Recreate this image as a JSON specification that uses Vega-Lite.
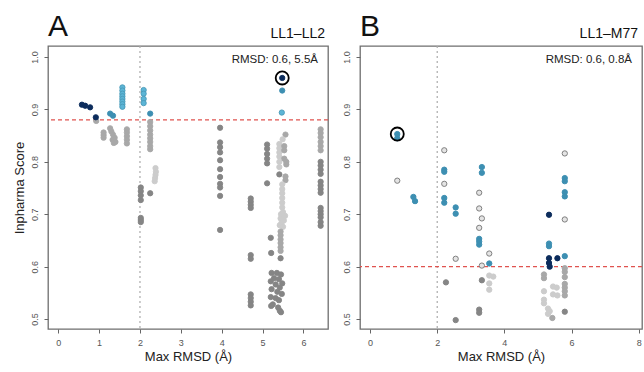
{
  "$schema": "https://vega.github.io/schema/vega-lite/v6.json",
  "padding": {"left": 12, "top": 11, "right": 0, "bottom": 0},
  "spacing": 11,
  "config": {
    "font": "Liberation Sans",
    "view": {"stroke": "#6e6e6e", "strokeWidth": 1.3},
    "axis": {"grid": false, "domain": false, "tickColor": "#666666", "tickSize": 4, "labelColor": "#555555", "labelFontSize": 9, "labelPadding": 5, "titleFontSize": 13, "titleFontWeight": "normal", "titleColor": "#222222", "titlePadding": 3}
  },
  "datasets": {
    "a": [
      {"x": 0.58, "y": 0.909, "c": "N"}, {"x": 0.66, "y": 0.907, "c": "N"}, {"x": 0.78, "y": 0.904, "c": "N"},
      {"x": 0.93, "y": 0.878, "c": "M"}, {"x": 0.92, "y": 0.885, "c": "N"},
      {"x": 1.27, "y": 0.892, "c": "T"}, {"x": 1.34, "y": 0.888, "c": "T"},
      {"x": 1.57, "y": 0.942, "c": "C"}, {"x": 1.57, "y": 0.936, "c": "C"}, {"x": 1.57, "y": 0.93, "c": "C"}, {"x": 1.57, "y": 0.925, "c": "C"},
      {"x": 1.57, "y": 0.92, "c": "C"}, {"x": 1.57, "y": 0.915, "c": "C"}, {"x": 1.57, "y": 0.91, "c": "C"}, {"x": 1.57, "y": 0.905, "c": "C"},
      {"x": 2.09, "y": 0.937, "c": "C"}, {"x": 2.09, "y": 0.93, "c": "C"}, {"x": 2.09, "y": 0.92, "c": "C"}, {"x": 2.09, "y": 0.912, "c": "C"},
      {"x": 2.25, "y": 0.892, "c": "T"},
      {"x": 2.25, "y": 0.876, "c": "M"}, {"x": 2.25, "y": 0.868, "c": "M"}, {"x": 2.25, "y": 0.86, "c": "M"}, {"x": 2.25, "y": 0.852, "c": "M"},
      {"x": 2.25, "y": 0.845, "c": "M"}, {"x": 2.25, "y": 0.838, "c": "M"}, {"x": 2.25, "y": 0.83, "c": "M"}, {"x": 2.25, "y": 0.824, "c": "M"},
      {"x": 1.11, "y": 0.856, "c": "M"}, {"x": 1.11, "y": 0.851, "c": "M"}, {"x": 1.11, "y": 0.846, "c": "M"},
      {"x": 1.27, "y": 0.864, "c": "M"}, {"x": 1.3, "y": 0.858, "c": "M"}, {"x": 1.34, "y": 0.852, "c": "M"}, {"x": 1.38, "y": 0.846, "c": "M"},
      {"x": 1.33, "y": 0.842, "c": "M"}, {"x": 1.4, "y": 0.838, "c": "M"}, {"x": 1.36, "y": 0.836, "c": "M"},
      {"x": 1.68, "y": 0.862, "c": "M"}, {"x": 1.68, "y": 0.856, "c": "M"}, {"x": 1.68, "y": 0.849, "c": "M"}, {"x": 1.68, "y": 0.842, "c": "M"}, {"x": 1.68, "y": 0.835, "c": "M"},
      {"x": 2.38, "y": 0.788, "c": "L"}, {"x": 2.39, "y": 0.781, "c": "L"}, {"x": 2.38, "y": 0.775, "c": "L"}, {"x": 2.37, "y": 0.769, "c": "L"}, {"x": 2.36, "y": 0.763, "c": "L"},
      {"x": 2.02, "y": 0.751, "c": "G"}, {"x": 2.02, "y": 0.744, "c": "G"}, {"x": 2.02, "y": 0.736, "c": "G"}, {"x": 2.02, "y": 0.727, "c": "G"},
      {"x": 2.02, "y": 0.693, "c": "G"}, {"x": 2.02, "y": 0.689, "c": "G"}, {"x": 2.02, "y": 0.685, "c": "G"},
      {"x": 2.25, "y": 0.74, "c": "G"},
      {"x": 3.96, "y": 0.865, "c": "G"}, {"x": 3.96, "y": 0.837, "c": "G"}, {"x": 3.96, "y": 0.828, "c": "G"}, {"x": 3.96, "y": 0.818, "c": "G"},
      {"x": 3.96, "y": 0.803, "c": "G"}, {"x": 3.96, "y": 0.786, "c": "G"}, {"x": 3.96, "y": 0.771, "c": "G"}, {"x": 3.96, "y": 0.758, "c": "G"},
      {"x": 3.96, "y": 0.751, "c": "G"}, {"x": 3.96, "y": 0.735, "c": "G"}, {"x": 3.96, "y": 0.67, "c": "G"},
      {"x": 4.71, "y": 0.73, "c": "G"}, {"x": 4.71, "y": 0.724, "c": "G"}, {"x": 4.71, "y": 0.718, "c": "G"}, {"x": 4.71, "y": 0.712, "c": "G"},
      {"x": 4.71, "y": 0.622, "c": "G"}, {"x": 4.71, "y": 0.615, "c": "G"},
      {"x": 4.71, "y": 0.547, "c": "G"}, {"x": 4.71, "y": 0.54, "c": "G"}, {"x": 4.71, "y": 0.533, "c": "G"}, {"x": 4.71, "y": 0.526, "c": "G"},
      {"x": 5.11, "y": 0.833, "c": "G"}, {"x": 5.11, "y": 0.825, "c": "G"}, {"x": 5.11, "y": 0.815, "c": "G"}, {"x": 5.11, "y": 0.806, "c": "G"},
      {"x": 5.11, "y": 0.797, "c": "G"}, {"x": 5.11, "y": 0.759, "c": "G"},
      {"x": 5.56, "y": 0.852, "c": "M"}, {"x": 5.49, "y": 0.843, "c": "L"}, {"x": 5.41, "y": 0.834, "c": "L"}, {"x": 5.41, "y": 0.826, "c": "L"},
      {"x": 5.41, "y": 0.818, "c": "L"}, {"x": 5.41, "y": 0.81, "c": "L"}, {"x": 5.41, "y": 0.8, "c": "L"}, {"x": 5.41, "y": 0.79, "c": "L"},
      {"x": 5.53, "y": 0.83, "c": "M"}, {"x": 5.53, "y": 0.822, "c": "M"}, {"x": 5.53, "y": 0.806, "c": "M"}, {"x": 5.58, "y": 0.8, "c": "M"},
      {"x": 5.58, "y": 0.795, "c": "M"}, {"x": 5.41, "y": 0.776, "c": "G"}, {"x": 5.56, "y": 0.772, "c": "M"}, {"x": 5.56, "y": 0.765, "c": "M"},
      {"x": 5.48, "y": 0.757, "c": "L"}, {"x": 5.48, "y": 0.748, "c": "L"}, {"x": 5.48, "y": 0.74, "c": "L"}, {"x": 5.48, "y": 0.731, "c": "L"},
      {"x": 5.48, "y": 0.722, "c": "L"}, {"x": 5.48, "y": 0.713, "c": "L"}, {"x": 5.5, "y": 0.704, "c": "L"}, {"x": 5.45, "y": 0.7, "c": "L"},
      {"x": 5.55, "y": 0.697, "c": "L"}, {"x": 5.44, "y": 0.692, "c": "L"}, {"x": 5.52, "y": 0.688, "c": "L"}, {"x": 5.46, "y": 0.683, "c": "L"},
      {"x": 5.42, "y": 0.679, "c": "L"}, {"x": 5.5, "y": 0.676, "c": "L"},
      {"x": 5.44, "y": 0.667, "c": "M"}, {"x": 5.44, "y": 0.66, "c": "M"}, {"x": 5.44, "y": 0.652, "c": "M"}, {"x": 5.44, "y": 0.645, "c": "M"},
      {"x": 5.44, "y": 0.637, "c": "M"}, {"x": 5.44, "y": 0.63, "c": "M"}, {"x": 5.44, "y": 0.616, "c": "G"},
      {"x": 5.2, "y": 0.655, "c": "G"}, {"x": 5.21, "y": 0.626, "c": "G"},
      {"x": 5.22, "y": 0.588, "c": "G"}, {"x": 5.35, "y": 0.588, "c": "G"}, {"x": 5.45, "y": 0.585, "c": "G"}, {"x": 5.28, "y": 0.578, "c": "G"},
      {"x": 5.4, "y": 0.576, "c": "G"}, {"x": 5.2, "y": 0.572, "c": "G"}, {"x": 5.48, "y": 0.568, "c": "G"}, {"x": 5.32, "y": 0.566, "c": "G"},
      {"x": 5.42, "y": 0.56, "c": "G"}, {"x": 5.22, "y": 0.557, "c": "G"}, {"x": 5.36, "y": 0.552, "c": "G"}, {"x": 5.47, "y": 0.548, "c": "G"},
      {"x": 5.2, "y": 0.542, "c": "G"}, {"x": 5.32, "y": 0.54, "c": "G"}, {"x": 5.4, "y": 0.536, "c": "G"}, {"x": 5.25, "y": 0.528, "c": "G"},
      {"x": 5.38, "y": 0.522, "c": "G"}, {"x": 5.42, "y": 0.516, "c": "G"}, {"x": 5.45, "y": 0.513, "c": "G"}, {"x": 5.21, "y": 0.525, "c": "G"},
      {"x": 5.48, "y": 0.96, "c": "N", "hl": true}, {"x": 5.48, "y": 0.936, "c": "T"}, {"x": 5.47, "y": 0.894, "c": "C"},
      {"x": 6.42, "y": 0.862, "c": "M"}, {"x": 6.42, "y": 0.855, "c": "M"}, {"x": 6.42, "y": 0.847, "c": "M"}, {"x": 6.42, "y": 0.838, "c": "M"},
      {"x": 6.42, "y": 0.83, "c": "M"}, {"x": 6.42, "y": 0.822, "c": "M"}, {"x": 6.42, "y": 0.8, "c": "G"}, {"x": 6.42, "y": 0.793, "c": "G"},
      {"x": 6.42, "y": 0.785, "c": "G"}, {"x": 6.42, "y": 0.777, "c": "G"}, {"x": 6.42, "y": 0.762, "c": "G"}, {"x": 6.42, "y": 0.755, "c": "G"},
      {"x": 6.42, "y": 0.748, "c": "G"}, {"x": 6.42, "y": 0.741, "c": "G"}, {"x": 6.42, "y": 0.712, "c": "G"}, {"x": 6.42, "y": 0.706, "c": "G"},
      {"x": 6.42, "y": 0.7, "c": "G"}, {"x": 6.42, "y": 0.694, "c": "G"}, {"x": 6.42, "y": 0.685, "c": "G"}, {"x": 6.42, "y": 0.678, "c": "G"}
    ],
    "b": [
      {"x": 0.81, "y": 0.845, "c": "T"}, {"x": 0.81, "y": 0.853, "c": "T", "hl": true},
      {"x": 0.81, "y": 0.764, "c": "O"},
      {"x": 1.29, "y": 0.733, "c": "T"}, {"x": 1.34, "y": 0.725, "c": "T"},
      {"x": 2.21, "y": 0.822, "c": "O"}, {"x": 2.21, "y": 0.785, "c": "T"}, {"x": 2.21, "y": 0.781, "c": "T"}, {"x": 2.21, "y": 0.758, "c": "O"},
      {"x": 2.21, "y": 0.731, "c": "T"}, {"x": 2.21, "y": 0.722, "c": "T"},
      {"x": 2.55, "y": 0.713, "c": "T"}, {"x": 2.55, "y": 0.701, "c": "T"}, {"x": 2.55, "y": 0.615, "c": "O"}, {"x": 2.26, "y": 0.57, "c": "G"},
      {"x": 2.55, "y": 0.498, "c": "G"},
      {"x": 3.33, "y": 0.79, "c": "T"}, {"x": 3.33, "y": 0.779, "c": "T"}, {"x": 3.25, "y": 0.741, "c": "O"}, {"x": 3.25, "y": 0.711, "c": "O"},
      {"x": 3.33, "y": 0.692, "c": "O"}, {"x": 3.25, "y": 0.674, "c": "O"}, {"x": 3.25, "y": 0.653, "c": "T"}, {"x": 3.25, "y": 0.648, "c": "T"},
      {"x": 3.25, "y": 0.642, "c": "T"}, {"x": 3.55, "y": 0.625, "c": "O"}, {"x": 3.55, "y": 0.606, "c": "T"}, {"x": 3.33, "y": 0.602, "c": "O"},
      {"x": 3.33, "y": 0.574, "c": "G"}, {"x": 3.55, "y": 0.583, "c": "L"}, {"x": 3.67, "y": 0.581, "c": "L"}, {"x": 3.55, "y": 0.568, "c": "L"},
      {"x": 3.55, "y": 0.556, "c": "L"}, {"x": 3.25, "y": 0.518, "c": "G"}, {"x": 3.25, "y": 0.512, "c": "G"},
      {"x": 5.8, "y": 0.816, "c": "O"}, {"x": 5.8, "y": 0.769, "c": "T"}, {"x": 5.8, "y": 0.763, "c": "T"}, {"x": 5.8, "y": 0.742, "c": "T"},
      {"x": 5.8, "y": 0.734, "c": "T"}, {"x": 5.8, "y": 0.69, "c": "O"}, {"x": 5.8, "y": 0.62, "c": "T"}, {"x": 5.8, "y": 0.597, "c": "M"},
      {"x": 5.8, "y": 0.59, "c": "M"}, {"x": 5.8, "y": 0.58, "c": "M"}, {"x": 5.8, "y": 0.567, "c": "M"}, {"x": 5.8, "y": 0.56, "c": "M"},
      {"x": 5.8, "y": 0.553, "c": "M"}, {"x": 5.8, "y": 0.545, "c": "M"}, {"x": 5.8, "y": 0.514, "c": "G"},
      {"x": 5.33, "y": 0.699, "c": "N"}, {"x": 5.33, "y": 0.644, "c": "T"}, {"x": 5.33, "y": 0.639, "c": "T"}, {"x": 5.33, "y": 0.616, "c": "N"},
      {"x": 5.33, "y": 0.607, "c": "N"}, {"x": 5.35, "y": 0.6, "c": "N"}, {"x": 5.58, "y": 0.616, "c": "N"},
      {"x": 5.18, "y": 0.585, "c": "M"}, {"x": 5.18, "y": 0.578, "c": "M"}, {"x": 5.18, "y": 0.553, "c": "L"}, {"x": 5.18, "y": 0.537, "c": "L"},
      {"x": 5.18, "y": 0.53, "c": "L"}, {"x": 5.45, "y": 0.562, "c": "L"}, {"x": 5.56, "y": 0.56, "c": "L"}, {"x": 5.45, "y": 0.547, "c": "L"},
      {"x": 5.58, "y": 0.545, "c": "L"}, {"x": 5.3, "y": 0.52, "c": "L"}, {"x": 5.35, "y": 0.515, "c": "L"}, {"x": 5.3, "y": 0.51, "c": "L"},
      {"x": 5.43, "y": 0.502, "c": "M"}
    ]
  },
  "hconcat": [
    {
      "width": 280, "height": 283,
      "layer": [
        {"data": {"values": [{}]}, "mark": {"type": "rule", "stroke": "#aaaaaa", "strokeDash": [2, 3], "strokeWidth": 1.2}, "encoding": {"x": {"datum": 2, "type": "quantitative"}}},
        {"data": {"values": [{}]}, "mark": {"type": "rule", "stroke": "#e0534f", "strokeDash": [4, 3], "strokeWidth": 1.3}, "encoding": {"y": {"datum": 0.88, "type": "quantitative"}}},
        {"data": {"name": "a"}, "mark": {"type": "point", "shape": "circle", "filled": true, "size": 28, "strokeWidth": 0.9, "opacity": 1},
         "encoding": {
           "x": {"field": "x", "type": "quantitative", "scale": {"domain": [-0.25, 6.6], "nice": false, "zero": false}, "axis": {"title": "Max RMSD (Å)", "values": [0, 1, 2, 3, 4, 5, 6]}},
           "y": {"field": "y", "type": "quantitative", "scale": {"domain": [0.481, 1.021], "nice": false, "zero": false}, "axis": {"title": "Inpharma Score", "values": [0.5, 0.6, 0.7, 0.8, 0.9, 1.0], "format": ".1f", "labelAngle": -90, "titlePadding": 4}},
           "fill": {"field": "c", "type": "nominal", "legend": null, "scale": {"domain": ["N", "T", "C", "G", "M", "L", "O"], "range": ["#0c2c5c", "#3d8fb2", "#5cb5d6", "#858585", "#a8a8a8", "#cccccc", "#e4e4e4"]}},
           "stroke": {"field": "c", "type": "nominal", "legend": null, "scale": {"domain": ["N", "T", "C", "G", "M", "L", "O"], "range": ["#0c2c5c", "#3d8fb2", "#4a9ab8", "#858585", "#a8a8a8", "#cccccc", "#808080"]}}
         }},
        {"data": {"name": "a"}, "transform": [{"filter": "datum.hl"}], "mark": {"type": "point", "shape": "circle", "filled": false, "size": 170, "stroke": "#000000", "strokeWidth": 1.8, "opacity": 1},
         "encoding": {"x": {"field": "x", "type": "quantitative"}, "y": {"field": "y", "type": "quantitative"}}},
        {"data": {"values": [{}]}, "mark": {"type": "text", "align": "left", "baseline": "alphabetic", "dx": 0, "dy": -10, "fontSize": 30, "color": "#111111"},
         "encoding": {"x": {"datum": -0.25, "type": "quantitative"}, "y": {"datum": 1.021, "type": "quantitative"}, "text": {"value": "A"}}},
        {"data": {"values": [{}]}, "mark": {"type": "text", "align": "right", "baseline": "alphabetic", "dx": -3, "dy": -8, "fontSize": 14, "color": "#111111"},
         "encoding": {"x": {"datum": 6.6, "type": "quantitative"}, "y": {"datum": 1.021, "type": "quantitative"}, "text": {"value": "LL1–LL2"}}},
        {"data": {"values": [{}]}, "mark": {"type": "text", "align": "right", "baseline": "alphabetic", "dx": -10, "dy": 17, "fontSize": 11.5, "color": "#222222"},
         "encoding": {"x": {"datum": 6.6, "type": "quantitative"}, "y": {"datum": 1.021, "type": "quantitative"}, "text": {"value": "RMSD: 0.6, 5.5Å"}}}
      ]
    },
    {
      "width": 282, "height": 283,
      "layer": [
        {"data": {"values": [{}]}, "mark": {"type": "rule", "stroke": "#aaaaaa", "strokeDash": [2, 3], "strokeWidth": 1.2}, "encoding": {"x": {"datum": 2, "type": "quantitative"}}},
        {"data": {"values": [{}]}, "mark": {"type": "rule", "stroke": "#e0534f", "strokeDash": [4, 3], "strokeWidth": 1.3}, "encoding": {"y": {"datum": 0.6, "type": "quantitative"}}},
        {"data": {"name": "b"}, "mark": {"type": "point", "shape": "circle", "filled": true, "size": 28, "strokeWidth": 1, "opacity": 1},
         "encoding": {
           "x": {"field": "x", "type": "quantitative", "scale": {"domain": [-0.3, 8.1], "nice": false, "zero": false}, "axis": {"title": "Max RMSD (Å)", "values": [0, 2, 4, 6, 8]}},
           "y": {"field": "y", "type": "quantitative", "scale": {"domain": [0.481, 1.021], "nice": false, "zero": false}, "axis": {"title": null, "values": [0.5, 0.6, 0.7, 0.8, 0.9, 1.0], "format": ".1f", "labelAngle": -90}},
           "fill": {"field": "c", "type": "nominal", "legend": null, "scale": {"domain": ["N", "T", "C", "G", "M", "L", "O"], "range": ["#0c2c5c", "#3d8fb2", "#5cb5d6", "#858585", "#a8a8a8", "#cccccc", "#e4e4e4"]}},
           "stroke": {"field": "c", "type": "nominal", "legend": null, "scale": {"domain": ["N", "T", "C", "G", "M", "L", "O"], "range": ["#0c2c5c", "#3d8fb2", "#4a9ab8", "#858585", "#a8a8a8", "#cccccc", "#808080"]}}
         }},
        {"data": {"name": "b"}, "transform": [{"filter": "datum.hl"}], "mark": {"type": "point", "shape": "circle", "filled": false, "size": 170, "stroke": "#000000", "strokeWidth": 1.8, "opacity": 1},
         "encoding": {"x": {"field": "x", "type": "quantitative"}, "y": {"field": "y", "type": "quantitative"}}},
        {"data": {"values": [{}]}, "mark": {"type": "text", "align": "left", "baseline": "alphabetic", "dx": 0, "dy": -10, "fontSize": 30, "color": "#111111"},
         "encoding": {"x": {"datum": -0.3, "type": "quantitative"}, "y": {"datum": 1.021, "type": "quantitative"}, "text": {"value": "B"}}},
        {"data": {"values": [{}]}, "mark": {"type": "text", "align": "right", "baseline": "alphabetic", "dx": -4, "dy": -8, "fontSize": 14, "color": "#111111"},
         "encoding": {"x": {"datum": 8.1, "type": "quantitative"}, "y": {"datum": 1.021, "type": "quantitative"}, "text": {"value": "LL1–M77"}}},
        {"data": {"values": [{}]}, "mark": {"type": "text", "align": "right", "baseline": "alphabetic", "dx": -10, "dy": 17, "fontSize": 11.5, "color": "#222222"},
         "encoding": {"x": {"datum": 8.1, "type": "quantitative"}, "y": {"datum": 1.021, "type": "quantitative"}, "text": {"value": "RMSD: 0.6, 0.8Å"}}}
      ]
    }
  ]
}
